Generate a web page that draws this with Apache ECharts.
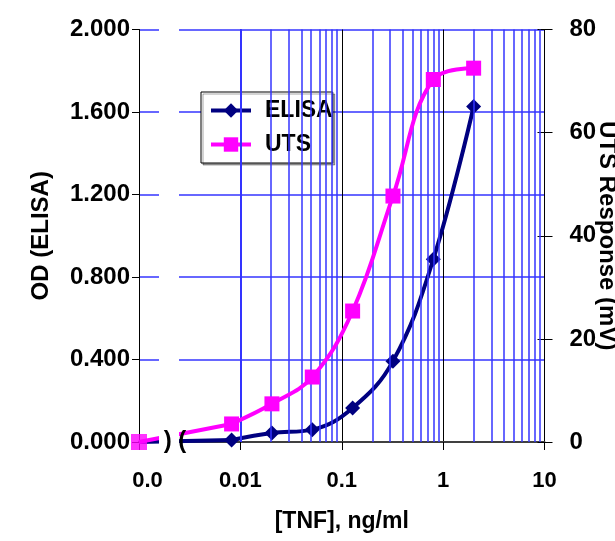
<!DOCTYPE html>
<html>
<head>
<meta charset="utf-8">
<script src="https://cdn.jsdelivr.net/npm/echarts@6/dist/echarts.min.js"></script>
<style>html,body{margin:0;padding:0;background:#fff}#c{width:615px;height:541px}</style>
</head>
<body>
<div id="c"></div>
<script>
// ---- data ----
const concentrations = [0.008192, 0.02048, 0.0512, 0.128, 0.32, 0.8, 2.0]; // ng/ml
const elisaOD = [0.010, 0.044, 0.060, 0.165, 0.392, 0.886, 1.627];
const utsMV = [3.5, 7.4, 12.6, 25.4, 47.7, 70.3, 72.5];
const zeroConc = 0.001;          // position where the "0.0" (blank) sample is drawn
const elisaZero = 0.0;
const utsZero = 0.0;
const xTickValues = [0.001, 0.01, 0.1, 1, 10];
const xTickLabels = ['0.0', '0.01', '0.1', '1', '10'];
const minorMultipliers = [2, 3, 4, 5, 6, 7, 8, 9];
const seriesNames = ['ELISA', 'UTS'];

const FONT = 'Liberation Sans, Arial, sans-serif';
const BLUE = '#3535ff';
const NAVY = '#000080';
const MAG = '#ff00ff';

const minorLines = [];
for (let d = 0; d < xTickValues.length - 1; d++) {
  for (const m of minorMultipliers) minorLines.push({ xAxis: xTickValues[d] * m });
}

const chart = echarts.init(document.getElementById('c'), null, { renderer: 'canvas' });
chart.setOption({
  animation: false,
  backgroundColor: '#fff',
  grid: { left: 139, right: 70.5, top: 29.5, bottom: 99, containLabel: false, outerBoundsMode: 'none' },
  legend: {
    data: seriesNames,
    orient: 'vertical',
    left: 201, top: 92,
    itemWidth: 40, itemHeight: 18, itemGap: 11,
    padding: [7, 0, 7, 8],
    backgroundColor: '#fff',
    borderColor: '#000', borderWidth: 1,
    shadowColor: 'rgba(0,0,0,0.35)', shadowOffsetX: 2, shadowOffsetY: 2, shadowBlur: 0,
    lineStyle: { width: 4 },
    textStyle: { fontFamily: FONT, fontWeight: 'bold', fontSize: 23, color: '#000', padding: [0, 0, 0, 9] }
  },
  xAxis: {
    type: 'log', logBase: 10, min: 0.001, max: 10,
    name: '[TNF], ng/ml', nameLocation: 'middle', nameGap: 68, nameMoveOverlap: false,
    nameTextStyle: { fontFamily: FONT, fontWeight: 'bold', fontSize: 23, color: '#000' },
    axisLine: { show: true, onZero: false, lineStyle: { color: '#404040', width: 2 } },
    axisTick: { show: true, inside: false, length: 8, lineStyle: { color: '#000' } },
    splitLine: { show: true, lineStyle: { color: '#000', width: 1 } },
    axisLabel: {
      margin: 28, fontFamily: FONT, fontWeight: 'bold', fontSize: 22, color: '#000',
      formatter: function (v) {
        let idx = -1;
        for (let i = 0; i < xTickValues.length; i++) if (Math.abs(Math.log10(v) - Math.log10(xTickValues[i])) < 1e-6) idx = i;
        if (idx < 0) return '';
        return idx === 0 ? '{z|' + xTickLabels[0] + '}' : xTickLabels[idx];
      },
      rich: { z: { fontFamily: FONT, fontWeight: 'bold', fontSize: 22, color: '#000', padding: [0, 0, 0, 17] } }
    }
  },
  yAxis: [
    {
      type: 'value', position: 'left', min: 0, max: 2, interval: 0.4,
      name: 'OD (ELISA)', nameLocation: 'middle', nameRotate: 90, nameGap: 86, nameMoveOverlap: false,
      nameTextStyle: { fontFamily: FONT, fontWeight: 'bold', fontSize: 24, color: '#000' },
      axisLine: { show: true, lineStyle: { color: '#000', width: 1 } },
      axisTick: { show: true, inside: false, length: 7, lineStyle: { color: '#000' } },
      splitLine: { show: true, lineStyle: { color: BLUE, width: 1.5 } },
      axisLabel: { margin: 9, fontFamily: FONT, fontWeight: 'bold', fontSize: 24, color: '#000', formatter: v => v.toFixed(3) }
    },
    {
      type: 'value', position: 'right', min: 0, max: 80, interval: 20,
      name: 'UTS Response (mV)', nameLocation: 'middle', nameRotate: -90, nameGap: 50, nameMoveOverlap: false,
      nameTextStyle: { fontFamily: FONT, fontWeight: 'bold', fontSize: 24, color: '#000', padding: [14, 0, 0, 0] },
      axisLine: { show: true, lineStyle: { color: '#000', width: 1 } },
      axisTick: { show: true, inside: false, length: 8, lineStyle: { color: '#000' } },
      splitLine: { show: false },
      axisLabel: { margin: 25, fontFamily: FONT, fontWeight: 'bold', fontSize: 24, color: '#000' }
    },
    {
      type: 'value', position: 'right', min: 0, max: 80, interval: 20,
      axisLine: { show: false },
      axisTick: { show: true, inside: true, length: 7, lineStyle: { color: '#000' } },
      splitLine: { show: false },
      axisLabel: { show: false }
    }
  ],
  series: [
    {
      name: 'grid-minor', type: 'line', data: [], silent: true, z: 1,
      markLine: {
        silent: true, symbol: ['none', 'none'], label: { show: false },
        lineStyle: { color: BLUE, width: 1.5, type: 'solid' },
        emphasis: { disabled: true },
        data: minorLines, animation: false
      }
    },
    {
      name: 'ELISA-zero', type: 'line', yAxisIndex: 0, silent: true, z: 3,
      data: [[zeroConc, elisaZero], [concentrations[0], elisaOD[0]]],
      showSymbol: false, symbol: 'none', lineStyle: { color: NAVY, width: 4 }
    },
    {
      name: 'UTS-zero', type: 'line', yAxisIndex: 1, silent: true, z: 3,
      data: [[zeroConc, utsZero], [concentrations[0], utsMV[0]]],
      symbol: 'none', lineStyle: { color: MAG, width: 4 }
    },
    {
      name: 'ELISA', type: 'line', yAxisIndex: 0, z: 4,
      data: concentrations.map((c, i) => [c, elisaOD[i]]),
      smooth: 0.4, symbol: 'diamond', symbolSize: 15,
      itemStyle: { color: NAVY }, lineStyle: { color: NAVY, width: 4 }
    },
    {
      name: 'UTS', type: 'line', yAxisIndex: 1, z: 5,
      data: concentrations.map((c, i) => [c, utsMV[i]]),
      smooth: 0.4, symbol: 'rect', symbolSize: 15,
      itemStyle: { color: MAG }, lineStyle: { color: MAG, width: 4 }
    },
    {
      name: 'zero-marks', type: 'scatter', yAxisIndex: 1, z: 6, silent: true,
      data: [[zeroConc, utsZero]], symbol: 'rect', symbolSize: 16,
      itemStyle: { color: MAG }
    }
  ],
  graphic: [
    { type: 'rect', shape: { x: 159, y: 22, width: 20, height: 428 }, style: { fill: '#fff' }, z: 100, silent: true },
    { type: 'text', x: 175, y: 441, z: 101, silent: true,
      style: { text: ') (', fontFamily: FONT, fontWeight: 'bold', fontSize: 24, fill: '#000', textAlign: 'center', textVerticalAlign: 'middle' } }
  ]
});
</script>
</body>
</html>
